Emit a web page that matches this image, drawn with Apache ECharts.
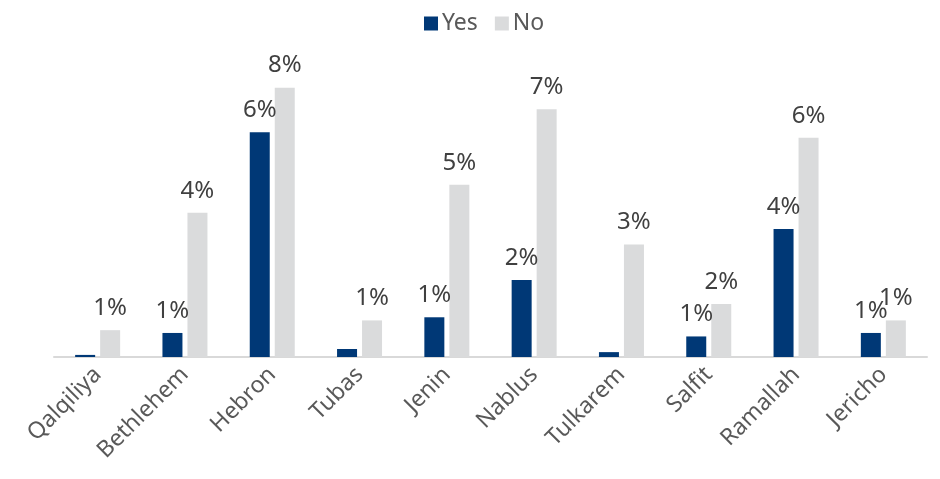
<!DOCTYPE html>
<html>
<head>
<meta charset="utf-8">
<script src="https://cdn.jsdelivr.net/npm/echarts@6/dist/echarts.min.js"></script>
<style>
  html, body { margin: 0; padding: 0; background: #fff; }
  #chart { width: 940px; height: 479px; }
</style>
</head>
<body>
<div id="chart"></div>
<script>
// Governorates along the category axis
const categories = ['Qalqiliya', 'Bethlehem', 'Hebron', 'Tubas', 'Jenin', 'Nablus', 'Tulkarem', 'Salfit', 'Ramallah', 'Jericho'];
// Share of respondents, in percent
const yesValues = [0.06, 0.69, 6.45, 0.23, 1.14, 2.21, 0.14, 0.59, 3.67, 0.69];
const noValues  = [0.77, 4.14, 7.73, 1.05, 4.94, 7.11, 3.23, 1.52, 6.29, 1.05];

const FONT = '"Noto Sans", sans-serif';

const valueLabel = {
  show: true,
  position: 'top',
  distance: 10,
  color: '#404040',
  fontFamily: FONT,
  fontSize: 24,
  formatter: p => {
    const r = Math.round(p.value);
    return r > 0 ? r + '%' : '';
  }
};

const chart = echarts.init(document.getElementById('chart'));
chart.setOption({
  animation: false,
  legend: {
    top: 7,
    left: 419,
    itemWidth: 14,
    itemHeight: 14,
    itemGap: 17,
    icon: 'rect',
    textStyle: { color: '#595959', fontFamily: FONT, fontSize: 23, padding: [0, 0, 0, -1] },
    data: ['Yes', 'No']
  },
  grid: { left: 54, right: 13, top: 43.4, bottom: 122, containLabel: false },
  xAxis: {
    type: 'category',
    data: categories,
    axisLine: { lineStyle: { color: '#d9d9d9', width: 2 } },
    axisTick: { show: false },
    axisLabel: {
      rotate: 45,
      margin: 14,
      interval: 0,
      color: '#595959',
      fontFamily: FONT,
      fontSize: 23
    }
  },
  yAxis: {
    type: 'value',
    min: 0,
    max: 9,
    show: false,
    splitLine: { show: false }
  },
  series: [
    {
      name: 'Yes',
      type: 'bar',
      data: yesValues,
      barWidth: 20,
      barGap: '25%',
      itemStyle: { color: '#003876' },
      label: valueLabel
    },
    {
      name: 'No',
      type: 'bar',
      data: noValues,
      barWidth: 20,
      itemStyle: { color: '#dadbdc' },
      label: valueLabel
    }
  ]
});
</script>
</body>
</html>
